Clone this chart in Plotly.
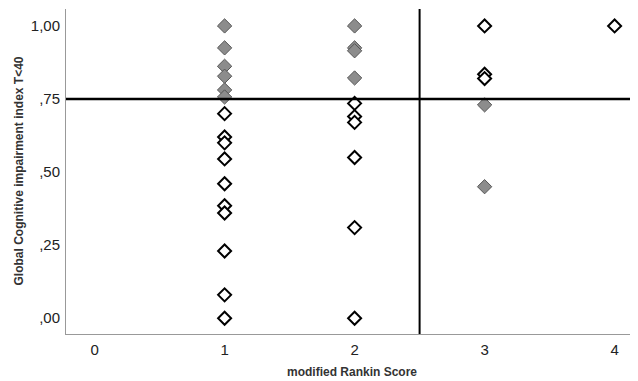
import plotly.graph_objects as go

# Data
gray_x = [1, 1, 1, 1, 1, 1, 2, 2, 2, 2, 3, 3]
gray_y = [1.00, 0.925, 0.862, 0.828, 0.781, 0.757, 1.00, 0.925, 0.915, 0.822, 0.73, 0.45]
white_x = [1, 1, 1, 1, 1, 1, 1, 1, 1, 1, 2, 2, 2, 2, 2, 2, 3, 3, 3, 4]
white_y = [0.70, 0.62, 0.60, 0.545, 0.46, 0.385, 0.36, 0.23, 0.08, 0.00,
           0.735, 0.69, 0.67, 0.55, 0.31, 0.00, 1.00, 0.835, 0.82, 1.00]
x_ticks = [0, 1, 2, 3, 4]
y_ticks = [0, 0.25, 0.5, 0.75, 1.0]
y_ticktext = [",00", ",25", ",50", ",75", "1,00"]
h_ref = 0.75
v_ref = 2.5

fig = go.Figure()
fig.add_trace(go.Scatter(x=gray_x, y=gray_y, mode="markers",
                         marker=dict(symbol="diamond", size=11, color="#8c8c8c",
                                     line=dict(color="#555555", width=1)),
                         showlegend=False))
fig.add_trace(go.Scatter(x=white_x, y=white_y, mode="markers",
                         marker=dict(symbol="diamond", size=10, color="white",
                                     line=dict(color="black", width=2)),
                         showlegend=False))

fig.add_shape(type="line", xref="paper", yref="y", x0=0, x1=1, y0=h_ref, y1=h_ref,
              line=dict(color="black", width=2.5))
fig.add_shape(type="line", xref="x", yref="paper", x0=v_ref, x1=v_ref, y0=0, y1=1,
              line=dict(color="black", width=2))

fig.add_annotation(text="<b>modified Rankin Score</b>", xref="paper", yref="paper",
                   x=0.5, y=0, yshift=-38, yanchor="middle", showarrow=False,
                   font=dict(size=12, color="#333333"))
fig.add_annotation(text="<b>Global Cognitive impairment index T<40</b>", xref="paper", yref="paper",
                   x=0, y=0.5, xshift=-48, xanchor="center", yanchor="middle", textangle=-90,
                   showarrow=False, font=dict(size=12, color="#333333"))

# page body adds an 8px offset; the figure is sized to fit the 638x381 window
fig.update_layout(
    width=630, height=373,
    margin=dict(l=58, r=0, t=1, b=47, autoexpand=False),
    plot_bgcolor="white", paper_bgcolor="white",
    font=dict(family="Liberation Sans, Arial, sans-serif", color="#222222"),
)
fig.update_xaxes(range=[-0.22, 4.18], tickvals=x_ticks, showgrid=False, zeroline=False,
                 showline=True, linecolor="#999999", linewidth=1, ticks="",
                 tickfont=dict(size=15), ticklabelstandoff=2, automargin=False)
fig.update_yaxes(range=[-0.054, 1.058], tickvals=y_ticks, ticktext=y_ticktext,
                 showgrid=False, zeroline=False, showline=True, linecolor="#999999",
                 linewidth=1, ticks="", tickfont=dict(size=15), automargin=False,
                 ticklabelstandoff=2)

fig.write_html("out.html")
